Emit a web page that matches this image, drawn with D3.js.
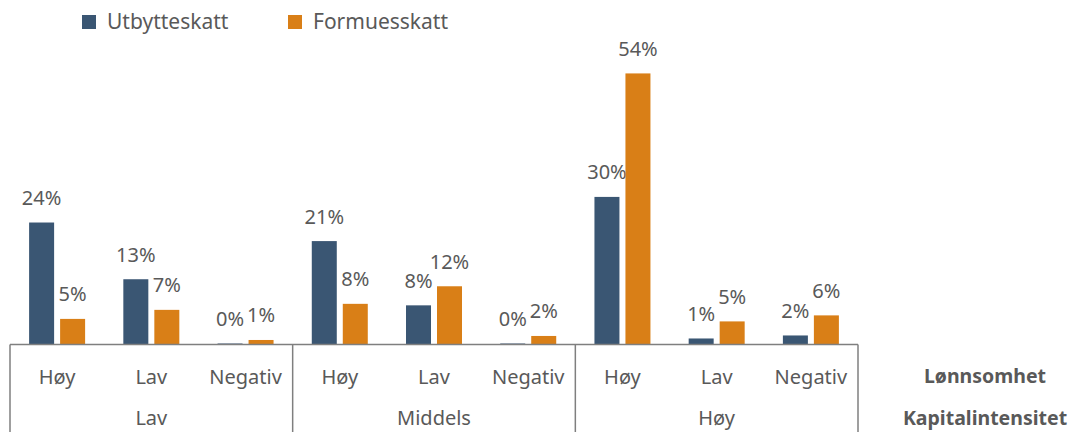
<!DOCTYPE html>
<html><head><meta charset="utf-8">
<script src="https://cdn.jsdelivr.net/npm/d3@7"></script>
<style>
html,body{margin:0;padding:0;background:#fff;}
svg{display:block;font-family:"Noto Sans","Open Sans",sans-serif;}
</style></head>
<body>
<svg id="c" width="1073" height="432"></svg>
<script>
const series = ["Utbytteskatt", "Formuesskatt"];
const colors = ["#3a5673", "#d97f17"];
const profitability = ["Høy", "Lav", "Negativ", "Høy", "Lav", "Negativ", "Høy", "Lav", "Negativ"];
const capitalGroups = ["Lav", "Middels", "Høy"];
const utbytteskatt = [24.3, 13.0, 0.2, 20.6, 7.8, 0.2, 29.4, 1.2, 1.8];
const formuesskatt = [5.1, 6.9, 0.9, 8.1, 11.6, 1.7, 54.0, 4.6, 5.8];
const valueLabels = [
  ["24%", "13%", "0%", "21%", "8%", "0%", "30%", "1%", "2%"],
  ["5%", "7%", "1%", "8%", "12%", "2%", "54%", "5%", "6%"]
];
const axisTitles = ["Lønnsomhet", "Kapitalintensitet"];

const values = [utbytteskatt, formuesskatt];
const svg = d3.select("#c");
const textColor = "#595959";
const axisColor = "#7f7f7f";

const left = 10, right = 858, baseY = 344.5;
const x0 = d3.scaleBand().domain(d3.range(profitability.length)).range([left, right]).padding(0);
const step = x0.step();
const x1 = d3.scaleBand().domain(series).range([step/2 - 28, step/2 + 28]).paddingInner(0.1935).paddingOuter(0);
const y = d3.scaleLinear().domain([0, 60]).range([baseY, baseY - 60 * 5.02]);
const xg = d3.scaleBand().domain(capitalGroups).range([left, right]).padding(0);

// bars
series.forEach((s, si) => {
  svg.append("g").selectAll("rect").data(values[si]).join("rect")
    .attr("x", (d, i) => x0(i) + x1(s))
    .attr("y", d => y(d))
    .attr("width", x1.bandwidth())
    .attr("height", d => baseY - y(d))
    .attr("fill", colors[si]);
  svg.append("g").selectAll("text").data(values[si]).join("text")
    .attr("x", (d, i) => x0(i) + x1(s) + x1.bandwidth()/2)
    .attr("y", d => y(d) - 17.5)
    .attr("text-anchor", "middle")
    .attr("font-size", 20)
    .attr("fill", textColor)
    .text((d, i) => valueLabels[si][i]);
});

// axis lines
svg.append("line").attr("x1", left).attr("x2", right).attr("y1", baseY).attr("y2", baseY)
  .attr("stroke", axisColor).attr("stroke-width", 1.5);
const dividers = capitalGroups.map(g => xg(g)).concat([right]);
svg.append("g").selectAll("line").data(dividers).join("line")
  .attr("x1", d => d).attr("x2", d => d).attr("y1", baseY).attr("y2", 432)
  .attr("stroke", axisColor).attr("stroke-width", 1.5);

// category labels
svg.append("g").selectAll("text").data(profitability).join("text")
  .attr("x", (d, i) => x0(i) + step/2)
  .attr("y", 384)
  .attr("text-anchor", "middle").attr("font-size", 20).attr("fill", textColor)
  .text(d => d);
svg.append("g").selectAll("text").data(capitalGroups).join("text")
  .attr("x", d => xg(d) + xg.bandwidth()/2)
  .attr("y", 425)
  .attr("text-anchor", "middle").attr("font-size", 20).attr("fill", textColor)
  .text(d => d);

// axis titles
svg.append("g").selectAll("text").data(axisTitles).join("text")
  .attr("x", 985)
  .attr("y", (d, i) => i === 0 ? 383 : 425)
  .attr("text-anchor", "middle").attr("font-size", 19.5).attr("font-weight", "bold").attr("fill", textColor)
  .text(d => d);

// legend
const legendX = [82, 288];
const lg = svg.append("g").selectAll("g").data(series).join("g")
  .attr("transform", (d, i) => `translate(${legendX[i]},0)`);
lg.append("rect").attr("x", 0).attr("y", 15).attr("width", 14).attr("height", 14)
  .attr("fill", (d, i) => colors[i]);
lg.append("text").attr("x", 25).attr("y", 29).attr("font-size", 21).attr("fill", textColor)
  .text(d => d);
</script>
</body></html>
